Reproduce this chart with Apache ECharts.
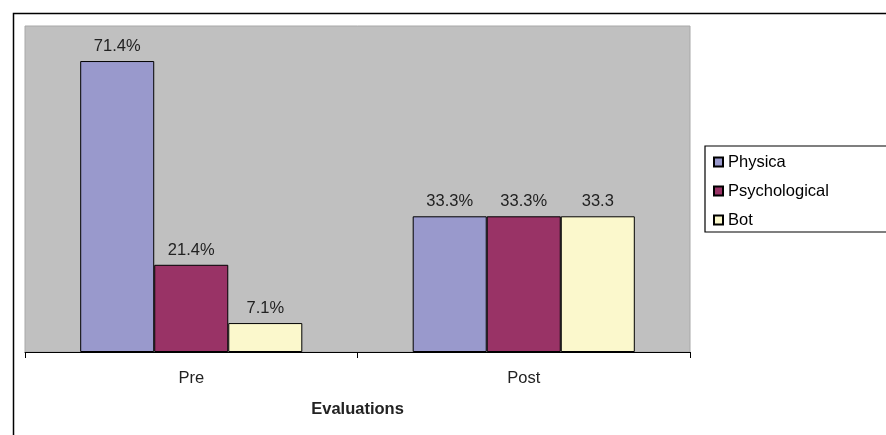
<!DOCTYPE html>
<html>
<head>
<meta charset="utf-8">
<script src="https://cdn.jsdelivr.net/npm/echarts@6/dist/echarts.min.js"></script>
<style>html,body{margin:0;padding:0;background:#fff}#c{width:886px;height:435px}</style>
</head>
<body>
<div id="c"></div>
<script>
const categories = ['Pre', 'Post'];
const seriesNames = ['Physica', 'Psychological', 'Bot'];
const physicalValues = [71.4, 33.3];
const psychologicalValues = [21.4, 33.3];
const botValues = [7.1, 33.3];
const physicalLabels = ['71.4%', '33.3%'];
const psychologicalLabels = ['21.4%', '33.3%'];
const botLabels = ['7.1%', '33.3'];
const axisTitle = 'Evaluations';

const colors = ['#9999CC', '#993366', '#FBF8CC'];
const font = 'Arial, "Liberation Sans", sans-serif';
const valuesList = [physicalValues, psychologicalValues, botValues];
const labelsList = [physicalLabels, psychologicalLabels, botLabels];

const chart = echarts.init(document.getElementById('c'), null, {renderer: 'canvas'});
chart.setOption({
  animation: false,
  backgroundColor: '#fff',
  textStyle: {fontFamily: font},
  grid: {left: 25, top: 26, width: 665, height: 326, show: true, backgroundColor: '#C0C0C0', borderColor: '#A8A8A8', borderWidth: 1},
  legend: {
    left: 708, top: 147, orient: 'vertical', icon: 'rect',
    itemWidth: 9, itemHeight: 9, itemGap: 9,
    textStyle: {fontFamily: font, fontSize: 16.5, color: '#000', lineHeight: 20},
    data: seriesNames
  },
  xAxis: {
    type: 'category', data: categories,
    name: axisTitle, nameLocation: 'middle', nameGap: 49,
    nameTextStyle: {fontFamily: font, fontSize: 16.5, fontWeight: 'bold', color: '#222'},
    axisLine: {lineStyle: {color: '#000', width: 1}},
    axisTick: {show: true, length: 6, lineStyle: {color: '#000'}},
    axisLabel: {fontFamily: font, fontSize: 16.5, color: '#222', margin: 18}
  },
  yAxis: {type: 'value', min: 0, max: 80, show: false, splitLine: {show: false}},
  graphic: [
    {type: 'rect', left: 11, top: 11, shape: {x: 0, y: 0, width: 900, height: 450}, style: {fill: 'none', stroke: '#000', lineWidth: 1.5}, z: 100},
    {type: 'rect', shape: {x: 705, y: 146, width: 200, height: 86}, style: {fill: 'none', stroke: '#000', lineWidth: 1.2}, z: 100}
  ],
  series: seriesNames.map((n, i) => ({
    name: n, type: 'bar',
    data: valuesList[i],
    barGap: '0%', barCategoryGap: '33.2%',
    itemStyle: {color: colors[i], borderColor: '#000', borderWidth: 1},
    label: {
      show: true, position: 'top', distance: 6,
      fontFamily: font, fontSize: 16.5, color: '#222',
      formatter: p => labelsList[i][p.dataIndex]
    }
  }))
});
</script>
</body>
</html>
